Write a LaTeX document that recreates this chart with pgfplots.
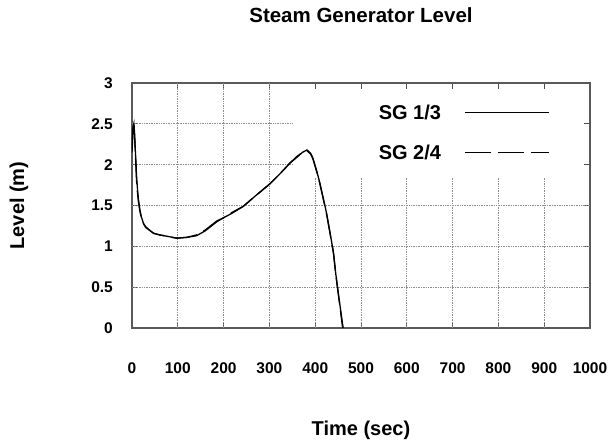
\documentclass[border=0pt]{standalone}
\usepackage{pgfplots}
\pgfplotsset{compat=1.18}
\usepackage{fontspec}
\setmainfont{Liberation Sans}
\begin{document}
\begin{tikzpicture}[x=1pt,y=1pt]
\path (0,0) rectangle (611,444);
\begin{axis}[
  at={(132pt,116pt)}, anchor=south west,
  scale only axis, width=458pt, height=245pt,
  xmin=0, xmax=1000, ymin=0, ymax=3,
  xtick={0,100,...,1000},
  ytick={0,0.5,1,1.5,2,2.5,3},
  yticklabels={0,0.5,1,1.5,2,2.5,3},
  xticklabels={0,100,200,300,400,500,600,700,800,900,1000},
  tick align=inside, tick pos=both,
  major tick length=6pt,
  tick style={color=black!70, line width=0.8pt},
  axis line style={color=black!65, line width=1.1pt},
  tick label style={font=\fontsize{15.5}{18}\selectfont\bfseries, inner sep=0pt},
  xticklabel style={anchor=center, yshift=-40pt},
  yticklabel style={anchor=east, xshift=-19pt},
  /pgf/number format/assume math mode=true,
  title={Steam Generator Level},
  title style={font=\fontsize{20.5}{24}\selectfont\bfseries, at={(axis description cs:0.5,1.253)}, anchor=center},
  xlabel={Time (sec)},
  xlabel style={font=\fontsize{20}{24}\selectfont\bfseries, at={(axis description cs:0.5,-0.4163)}, anchor=center},
  ylabel={Level (m)},
  ylabel style={font=\fontsize{20}{24}\selectfont\bfseries, at={(axis description cs:-0.2467,0.5)}, anchor=center, rotate=0},
  legend style={at={(axis description cs:0.9127,0.9163)}, anchor=north east, draw=none, fill=none,
    inner sep=0pt, row sep=22pt, column sep=24pt,
    nodes={inner sep=0pt, text height=16pt, text depth=2pt},
    font=\fontsize{20}{24}\selectfont\bfseries},
  legend cell align=right,
  legend plot pos=right,
  legend image code/.code={\draw[#1, line width=0.8pt] (0pt,0pt) -- (84pt,0pt);},
]
\begin{scope}[densely dotted, color=black!45, line width=0.7pt]
\draw (axis cs:0,0.5) -- (axis cs:1000,0.5);
\draw (axis cs:0,1) -- (axis cs:1000,1);
\draw (axis cs:0,1.5) -- (axis cs:1000,1.5);
\draw (axis cs:0,2) -- (axis cs:351,2);
\draw (axis cs:0,2.5) -- (axis cs:351,2.5);
\draw (axis cs:100,0) -- (axis cs:100,3);
\draw (axis cs:200,0) -- (axis cs:200,3);
\draw (axis cs:300,0) -- (axis cs:300,3);
\draw (axis cs:400,0) -- (axis cs:400,1.85);
\draw (axis cs:500,0) -- (axis cs:500,1.85);
\draw (axis cs:600,0) -- (axis cs:600,1.85);
\draw (axis cs:700,0) -- (axis cs:700,1.85);
\draw (axis cs:800,0) -- (axis cs:800,1.85);
\draw (axis cs:900,0) -- (axis cs:900,1.85);
\end{scope}
\addplot[black, line width=1.3pt] coordinates {
(0,2.2)(2,2.45)(4,2.5)(6,2.3)(8,2.1)(10,1.85)(12,1.7)(14,1.58)(17,1.45)(20,1.37)(25,1.28)(30,1.23)(40,1.19)(47,1.16)(60,1.14)(80,1.12)(97,1.10)(120,1.11)(141,1.13)(160,1.19)(185,1.30)(200,1.35)(220,1.41)(243,1.49)(270,1.62)(300,1.76)(320,1.87)(345,2.02)(360,2.09)(372,2.15)(382,2.18)(390,2.14)(395,2.08)(403,1.93)(410,1.78)(418,1.58)(425,1.40)(432,1.18)(440,0.92)(445,0.66)(452,0.36)(461,0)
};
\addlegendentry{SG 1/3}
\addplot[black, line width=1.3pt, dash pattern=on 26pt off 7pt] coordinates {
(0,2.15)(2,2.4)(4,2.52)(6,2.35)(8,2.05)(10,1.8)(12,1.65)(14,1.55)(17,1.44)(20,1.36)(25,1.28)(30,1.24)(40,1.19)(47,1.16)(60,1.14)(80,1.12)(97,1.10)(120,1.11)(141,1.14)(160,1.20)(185,1.31)(200,1.35)(220,1.42)(243,1.49)(270,1.62)(300,1.76)(320,1.87)(345,2.02)(360,2.10)(372,2.15)(382,2.17)(390,2.13)(395,2.07)(403,1.92)(410,1.77)(418,1.57)(425,1.39)(432,1.17)(440,0.91)(445,0.65)(452,0.35)(460,0)
};
\addlegendentry{SG 2/4}
\end{axis}
\end{tikzpicture}
\end{document}
